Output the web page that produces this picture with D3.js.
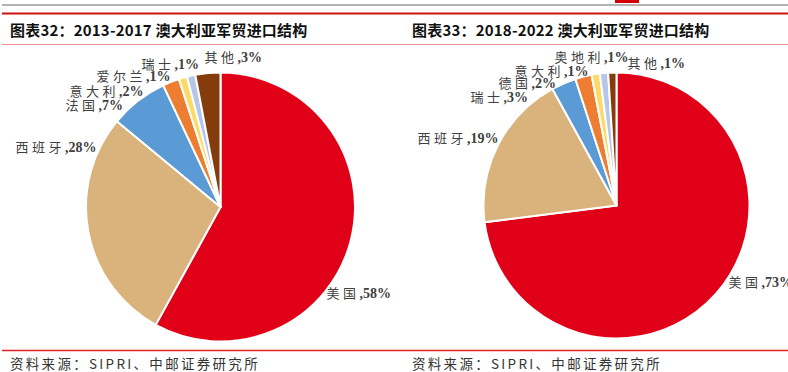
<!DOCTYPE html>
<html>
<head>
<meta charset="utf-8">
<script src="https://cdn.jsdelivr.net/npm/d3@7"></script>
<style>
  body { margin: 0; background: #fff; }
  svg { display: block; }
  .title { font-family: "Noto Sans CJK SC", sans-serif; font-weight: bold; font-size: 15px; fill: #111; letter-spacing: 0.2px; }
  .source { font-family: "Noto Sans CJK SC", sans-serif; font-size: 13.5px; fill: #333; letter-spacing: 2.3px; }
  .lbl { font-size: 13px; fill: #404040; }
  .lbl .nm { font-family: "Noto Sans CJK SC", sans-serif; letter-spacing: 3.5px; }
  .lbl .vl { font-family: "Liberation Serif", serif; font-weight: bold; font-size: 14px; }
</style>
</head>
<body>
<svg></svg>
<script>
const WIDTH = 788;
const HEIGHT = 372;

// chart 1: 2013-2017
const names1 = ['美国', '西班牙', '法国', '意大利', '爱尔兰', '瑞士', '其他'];
const values1 = [58, 28, 7, 2, 1, 1, 3];
// chart 2: 2018-2022
const names2 = ['美国', '西班牙', '瑞士', '德国', '意大利', '奥地利', '其他'];
const values2 = [73, 19, 3, 2, 1, 1, 1];

const titles = ['图表32：2013-2017 澳大利亚军贸进口结构', '图表33：2018-2022 澳大利亚军贸进口结构'];
const sourceText = '资料来源：SIPRI、中邮证券研究所';

const colors = ['#e00017', '#d9b27c', '#5b9bd5', '#ed7d31', '#ffd966', '#b4c7e7', '#843c0c'];

// label placement (offset of the label's left edge from the pie centre), Excel "best fit" style
const labelPos1 = [[106, 86], [-205, -60], [-155, -102], [-151, -116], [-124, -131], [-79, -143], [-16, -150]];
const labelPos2 = [[112, 77], [-199, -67], [-146, -108], [-118, -122], [-102, -134], [-62, -148], [11, -142]];

const svg = d3.select('svg')
    .attr('width', WIDTH)
    .attr('height', HEIGHT);

// header / footer rules
svg.append('line').attr('x1', 2).attr('x2', WIDTH).attr('y1', 5).attr('y2', 5)
    .attr('stroke', '#9a9a9a').attr('stroke-width', 1.5);
svg.append('rect').attr('x', 615).attr('y', 0).attr('width', 24).attr('height', 3).attr('fill', '#d40000');
svg.append('line').attr('x1', 2).attr('x2', WIDTH).attr('y1', 13.5).attr('y2', 13.5)
    .attr('stroke', '#cc1111').attr('stroke-width', 2);
svg.append('line').attr('x1', 2).attr('x2', WIDTH).attr('y1', 44.5).attr('y2', 44.5)
    .attr('stroke', '#e99090').attr('stroke-width', 1);
svg.append('line').attr('x1', 2).attr('x2', WIDTH).attr('y1', 350.5).attr('y2', 350.5)
    .attr('stroke', '#dd2222').attr('stroke-width', 1.5);

function drawPie(names, values, labelPos, cx, cy, r, titleX, title) {
  svg.append('text').attr('class', 'title')
      .attr('x', titleX).attr('y', 36)
      .text(title);
  svg.append('text').attr('class', 'source')
      .attr('x', titleX).attr('y', 369)
      .text(sourceText);

  const pie = d3.pie().sort(null).value((d) => d)(values);
  const arc = d3.arc().innerRadius(0).outerRadius(r);
  const g = svg.append('g').attr('transform', `translate(${cx},${cy})`);

  g.selectAll('path')
      .data(pie)
    .enter().append('path')
      .attr('d', arc)
      .attr('fill', (d, i) => colors[i])
      .attr('stroke', '#fff')
      .attr('stroke-width', 2)
      .attr('stroke-linejoin', 'round');

  const lbl = g.selectAll('text.lbl')
      .data(pie)
    .enter().append('text')
      .attr('class', 'lbl')
      .attr('x', (d, i) => labelPos[i][0])
      .attr('y', (d, i) => labelPos[i][1])
      .attr('dy', '0.35em');
  lbl.append('tspan').attr('class', 'nm').text((d, i) => names[i]);
  lbl.append('tspan').attr('class', 'vl').text((d) => ',' + d.data + '%');
}

drawPie(names1, values1, labelPos1, 220.5, 207, 134.5, 10, titles[0]);
drawPie(names2, values2, labelPos2, 616.5, 205.5, 133, 412, titles[1]);
</script>
</body>
</html>
